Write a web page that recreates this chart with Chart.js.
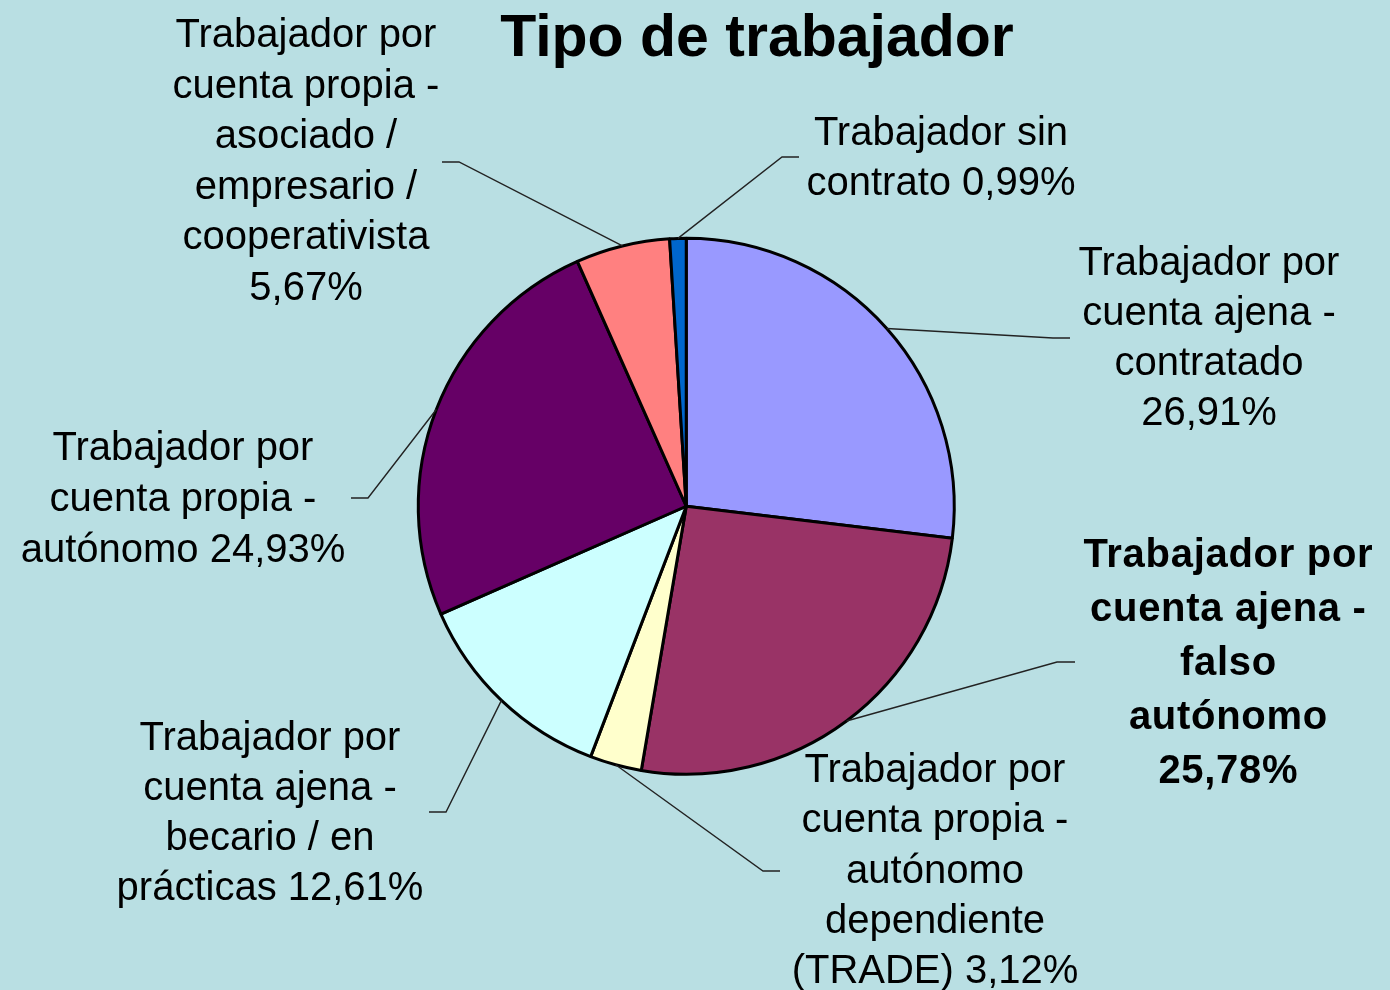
<!DOCTYPE html>
<html>
<head>
<meta charset="utf-8">
<script src="https://cdn.jsdelivr.net/npm/chart.js@4.4.1/dist/chart.umd.min.js"></script>
<style>
  html, body { margin: 0; padding: 0; background: #b9dfe3; }
  #wrap { width: 1390px; height: 990px; }
</style>
</head>
<body>
<div id="wrap"><canvas id="chart" width="1390" height="990"></canvas></div>
<script>
const title = "Tipo de trabajador";

const categories = [
    "Trabajador por cuenta ajena - contratado",
    "Trabajador por cuenta ajena - falso autónomo",
    "Trabajador por cuenta propia - autónomo dependiente (TRADE)",
    "Trabajador por cuenta ajena - becario / en prácticas",
    "Trabajador por cuenta propia - autónomo",
    "Trabajador por cuenta propia - asociado / empresario / cooperativista",
    "Trabajador sin contrato"
];
const percentages = [26.91, 25.78, 3.12, 12.61, 24.93, 5.67, 0.99];
const sliceColors = ["#9999ff", "#993366", "#ffffcc", "#ccffff", "#660066", "#ff8080", "#0066cc"];

// how each label is wrapped and where it sits (pct: "line" = own line, "end" = appended)
const labelLayout = [
    { lines: ["Trabajador por", "cuenta ajena -", "contratado"], pct: "line", x: 1209, y: 275, lh: 50, elbow: [1053, 338], stub: 1070 },
    { lines: ["Trabajador por", "cuenta ajena -", "falso", "autónomo"], pct: "line", x: 1228, y: 567, lh: 54, elbow: [1057, 662], stub: 1075, bold: true },
    { lines: ["Trabajador por", "cuenta propia -", "autónomo", "dependiente", "(TRADE)"], pct: "end", x: 935, y: 782, lh: 50.3, elbow: [763, 871], stub: 780 },
    { lines: ["Trabajador por", "cuenta ajena -", "becario / en", "prácticas"], pct: "end", x: 270, y: 750, lh: 50, elbow: [446, 812], stub: 429 },
    { lines: ["Trabajador por", "cuenta propia -", "autónomo"], pct: "end", x: 183, y: 460, lh: 51, elbow: [368, 498], stub: 351 },
    { lines: ["Trabajador por", "cuenta propia -", "asociado /", "empresario /", "cooperativista"], pct: "line", x: 306, y: 47, lh: 50.6, elbow: [459, 162], stub: 442 },
    { lines: ["Trabajador sin", "contrato"], pct: "end", x: 941, y: 145, lh: 50, elbow: [782, 157], stub: 799 }
];

function fmtPct(v) {
    return v.toFixed(2).replace(".", ",") + "%";
}

const labelPlugin = {
    id: "pieLabels",
    afterDraw(chart) {
        const ctx = chart.ctx;
        const meta = chart.getDatasetMeta(0);

        ctx.save();
        // title
        ctx.fillStyle = "#000";
        ctx.font = "bold 59px 'Liberation Sans', Arial, sans-serif";
        ctx.textAlign = "center";
        ctx.textBaseline = "alphabetic";
        ctx.fillText(title, 757, 56);

        meta.data.forEach((arc, i) => {
            const lay = labelLayout[i];
            const mid = (arc.startAngle + arc.endAngle) / 2;
            const ex = arc.x + Math.cos(mid) * arc.outerRadius;
            const ey = arc.y + Math.sin(mid) * arc.outerRadius;

            ctx.strokeStyle = "#222";
            ctx.lineWidth = 1.4;
            ctx.beginPath();
            ctx.moveTo(ex, ey);
            ctx.lineTo(lay.elbow[0], lay.elbow[1]);
            ctx.lineTo(lay.stub, lay.elbow[1]);
            ctx.stroke();

            const lines = lay.lines.slice();
            const pct = fmtPct(percentages[i]);
            if (lay.pct === "line") lines.push(pct);
            else lines[lines.length - 1] += " " + pct;

            let spacing = 0;
            if (lay.bold) {
                ctx.font = "bold 40px 'Liberation Sans', Arial, sans-serif";
                spacing = 0.7;
            } else {
                ctx.font = "40px 'Liberation Sans', Arial, sans-serif";
            }
            ctx.letterSpacing = spacing + "px";
            ctx.fillStyle = "#000";
            lines.forEach((t, k) => {
                ctx.fillText(t, lay.x + spacing / 2, lay.y + k * lay.lh);
            });
            ctx.letterSpacing = "0px";
        });
        ctx.restore();
    }
};

new Chart(document.getElementById("chart"), {
    type: "pie",
    data: {
        labels: categories,
        datasets: [{
            data: percentages,
            backgroundColor: sliceColors,
            borderColor: "#000",
            borderWidth: 3,
            borderAlign: "center"
        }]
    },
    options: {
        responsive: false,
        animation: false,
        events: [],
        layout: {
            padding: { left: 416.75, right: 434.25, top: 236.75, bottom: 214.25 }
        },
        plugins: {
            legend: { display: false },
            title: { display: false },
            tooltip: { enabled: false }
        }
    },
    plugins: [labelPlugin]
});
</script>
</body>
</html>
